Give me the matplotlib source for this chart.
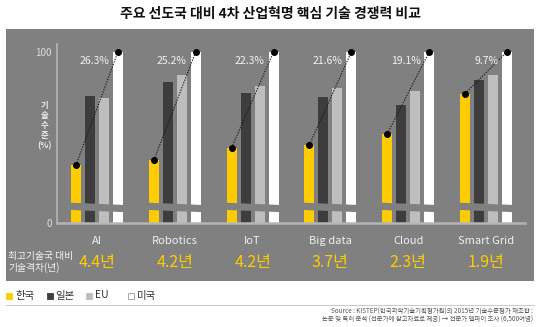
import numpy as np
import matplotlib
matplotlib.use("Agg")
import matplotlib.pyplot as plt
from matplotlib.patches import Polygon, Rectangle
from matplotlib.scale import FuncScale

plt.rcParams['font.family'] = ['Noto Sans CJK KR', 'DejaVu Sans']

# tech level (%), US = 100
categories = ["AI", "Robotics", "IoT", "Big data", "Cloud", "Smart Grid"]
korea = [73.7, 74.8, 77.7, 78.4, 80.9, 90.3]
japan = [89.8, 92.9, 90.4, 89.5, 87.7, 93.5]
eu = [89.3, 94.6, 92.1, 91.5, 90.8, 94.6]
usa = [100, 100, 100, 100, 100, 100]
gap_pct = ["26.3%", "25.2%", "22.3%", "21.6%", "19.1%", "9.7%"]
gap_years = ["4.4년", "4.2년", "4.2년", "3.7년", "2.3년", "1.9년"]
series_names = ["한국", "일본", "EU", "미국"]

bg = "#808080"
yellow = "#ffcc00"
colors = [yellow, "#3d3d3d", "#bebebe", "#ffffff"]

# broken axis: 0-65 squeezed, 65-100 full size
BREAK = 65.0
SQ = 0.0739


def fwd(v):
    v = np.asarray(v, dtype=float)
    return np.where(v < BREAK, v * SQ, BREAK * SQ + (v - BREAK))


def inv(u):
    u = np.asarray(u, dtype=float)
    return np.where(u < BREAK * SQ, u / SQ, u - BREAK * SQ + BREAK)


W, H = 540, 327
fig = plt.figure(figsize=(W / 100, H / 100), dpi=100)
fig.patch.set_facecolor("white")

# grey panel
fig.patches.append(Rectangle((6 / W, 1 - 281 / H), 528 / W, 252 / H,
                             transform=fig.transFigure, facecolor=bg,
                             edgecolor="none", zorder=-5))

fig.text(270 / W, 1 - 14 / H, "주요 선도국 대비 4차 산업혁명 핵심 기술 경쟁력 비교",
         ha="center", va="center", fontsize=10, fontweight="bold", color="#111111")

ax = fig.add_axes([57.3 / W, 1 - 223.3 / H, 467.7 / W, 179.3 / H])
ax.set_facecolor("none")
ax.set_yscale(FuncScale(ax.yaxis, (fwd, inv)))
ax.set_ylim(0, 101.8)
ax.set_xlim(-0.51, 5.501)

x = np.arange(len(categories))
bw = 0.1285
offs = [-0.27, -0.09, 0.09, 0.27]
for vals, off, c in zip([korea, japan, eu, usa], offs, colors):
    ax.bar(x + off, vals, width=bw, color=c, zorder=2)

# break band across each group
for i in x:
    xl = i + offs[0] - bw / 2 - 0.02
    xr = i + offs[3] + bw / 2 + 0.02
    band = Polygon([(xl, 64.8), (xr, 57.5), (xr, 35.0), (xl, 42.0)],
                   closed=True, facecolor=bg, edgecolor="none", zorder=3)
    ax.add_patch(band)

# korea -> usa connectors
for i in x:
    ax.plot([i + offs[0], i + offs[3]], [korea[i], usa[i]], color="#1a1a1a",
            lw=0.8, ls=(0, (1.2, 1.2)), zorder=4)
    ax.plot([i + offs[0], i + offs[3]], [korea[i], usa[i]], "o", color="black",
            ms=4, zorder=5, ls="none")
    ax.text(i + offs[3] - bw / 2 - 0.05, 97.9, gap_pct[i], ha="right", va="center",
            fontsize=7.5, color="#f2f2f2", zorder=6)

ax.set_yticks([0, 100])
ax.set_yticklabels(["0", "100"], fontsize=7, color="#dddddd")
ax.tick_params(axis="y", length=0, pad=4)
ax.set_xticks(x)
ax.set_xticklabels(categories, fontsize=8, color="#f0f0f0")
ax.tick_params(axis="x", length=0, pad=9)
for s in ["top", "right"]:
    ax.spines[s].set_visible(False)
ax.spines["left"].set_color("#b5b5b5")
ax.spines["left"].set_linewidth(1.2)
ax.spines["bottom"].set_color("#b5b5b5")
ax.spines["bottom"].set_linewidth(1.8)
ax.spines["bottom"].set_zorder(6)

# vertical y label
for k, ch in enumerate(["기", "술", "수", "준", "(%)"]):
    fig.text(44 / W, 1 - (105 + 10.3 * k) / H, ch, ha="center", va="center",
             fontsize=6, fontweight="bold", color="#eeeeee")

# gap in years row
fig.text(8 / W, 1 - 256 / H, "최고기술국 대비", ha="left", va="center",
         fontsize=7, color="#f5f5f5")
fig.text(8 / W, 1 - 268 / H, "기술격차(년)", ha="left", va="center",
         fontsize=7, color="#f5f5f5")
yrow = -(262 - 223.3) / 179.3
for i in x:
    ax.text(i, yrow, gap_years[i], transform=ax.get_xaxis_transform(),
            ha="center", va="center", fontsize=11.5, color=yellow,
            fontweight="medium")

# legend
leg_x = [6, 46.7, 86, 128]
for lx, name, c in zip(leg_x, series_names, colors):
    ec = "#999999" if c == "#ffffff" else c
    fig.patches.append(Rectangle((lx / W, 1 - 298.5 / H), 6 / W, 6 / H,
                                 transform=fig.transFigure, facecolor=c,
                                 edgecolor=ec, lw=0.6, zorder=2))
    fig.text((lx + 9) / W, 1 - 295.5 / H, name, ha="left", va="center",
             fontsize=7.5, color="#333333")

fig.add_artist(plt.Line2D([6 / W, 534 / W], [1 - 304.7 / H, 1 - 304.7 / H],
                          transform=fig.transFigure, color="#cccccc", lw=0.8))

fig.text(533 / W, 1 - 312 / H,
         "Source : KISTEP(한국과학기술기획평가원)의 2015년 기술수준평가 재조합 :",
         ha="right", va="center", fontsize=4.6, color="#555555")
fig.text(533 / W, 1 - 320 / H,
         "논문 및 특허 분석 (전문가에 참고자료로 제공) → 전문가 델파이 조사 (6,500여명)",
         ha="right", va="center", fontsize=4.6, color="#555555")

fig.savefig("out.png", dpi=100, facecolor="white")
